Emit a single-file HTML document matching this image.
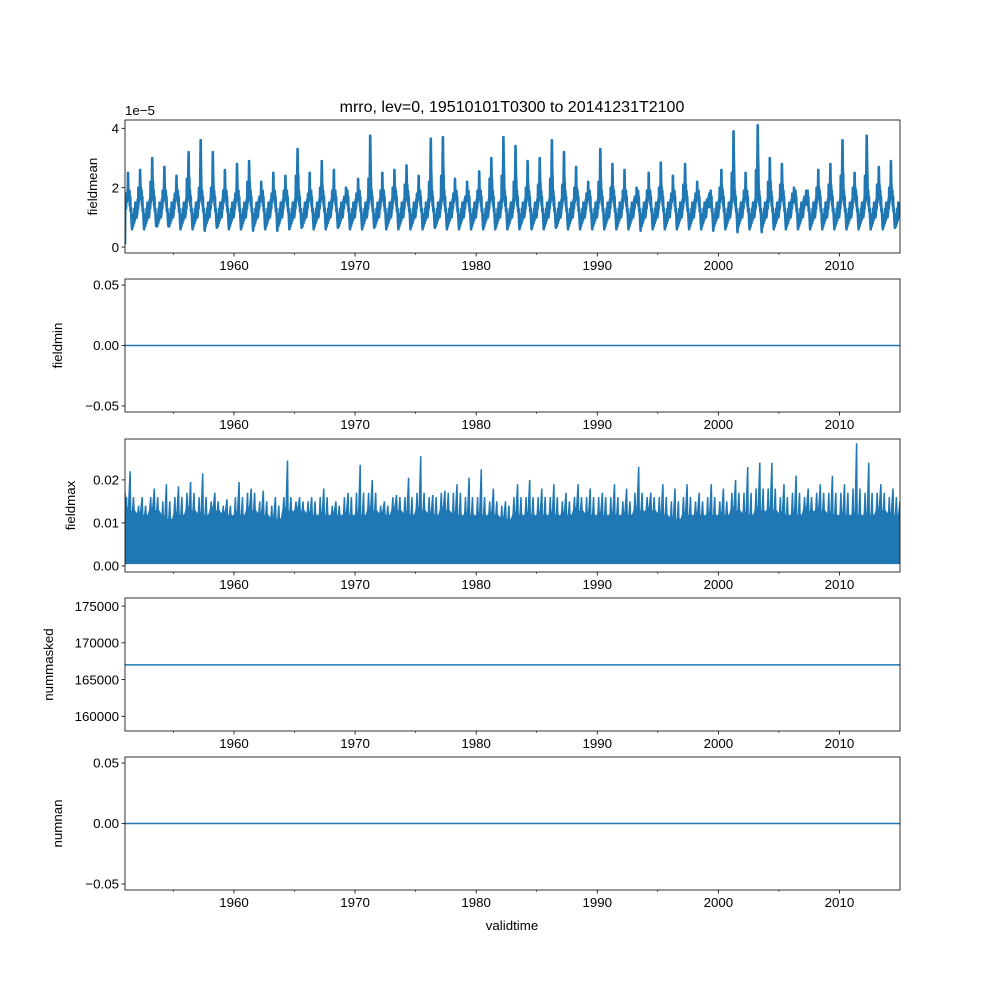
<!DOCTYPE html>
<html><head><meta charset="utf-8"><style>
html,body{margin:0;padding:0;background:#fff}
svg{display:block;font-family:"Liberation Sans","DejaVu Sans",sans-serif}
</style></head><body>
<svg id="fig" width="1000" height="1000" viewBox="0 0 1000 1000" xmlns="http://www.w3.org/2000/svg">
<rect width="1000" height="1000" fill="#fff"/>
<text x="512" y="112" font-size="16" text-anchor="middle">mrro, lev=0, 19510101T0300 to 20141231T2100</text>
<text x="512" y="930" font-size="13.3" text-anchor="middle">validtime</text>
</svg>
<script>
// fieldmean annual peaks (x1e-5), 1951..2014
const years = [];
for (let y = 1951; y <= 2014; y++) years.push(y);
const meanPeak = [2.5,2.6,3.0,2.7,2.4,3.2,3.6,3.2,2.6,2.8,2.9,2.2,2.5,2.4,3.3,2.5,2.9,2.6,2.0,2.3,3.75,2.5,2.6,2.75,2.4,3.65,3.7,2.3,2.2,2.55,3.0,3.7,3.4,2.9,3.0,3.6,3.2,2.7,2.2,3.3,2.8,2.6,2.0,2.5,2.85,2.4,2.8,2.2,1.8,2.6,3.9,2.5,4.1,3.0,2.8,2.0,1.9,2.6,2.8,3.6,2.5,3.75,2.7,2.9];
const meanSecond = [1.8,2.0,2.2,1.9,1.8,2.3,2.0,2.0,1.9,1.8,2.2,1.7,1.8,1.9,2.4,1.8,2.0,1.9,1.7,1.8,2.3,1.9,2.0,2.1,1.8,2.2,2.4,1.8,1.7,1.9,2.3,2.4,2.2,2.0,2.1,2.3,2.1,2.0,1.8,2.2,2.0,1.9,1.7,1.9,2.0,1.8,2.1,1.8,1.6,2.0,2.5,1.9,2.6,2.2,2.1,1.8,1.7,2.0,2.1,2.4,2.0,2.4,2.1,2.0];
const meanTrough = [0.6,0.6,0.7,0.7,0.6,0.6,0.55,0.65,0.6,0.6,0.55,0.6,0.55,0.6,0.65,0.6,0.6,0.65,0.6,0.6,0.65,0.6,0.6,0.6,0.6,0.65,0.6,0.6,0.6,0.6,0.6,0.6,0.6,0.6,0.6,0.65,0.6,0.6,0.6,0.6,0.6,0.6,0.55,0.6,0.6,0.6,0.6,0.6,0.55,0.6,0.5,0.6,0.5,0.6,0.6,0.6,0.6,0.6,0.6,0.6,0.6,0.6,0.6,0.65];
// fieldmax annual peaks, secondary peaks, band tops
const maxPeak = [0.022,0.016,0.018,0.019,0.0185,0.0195,0.0215,0.017,0.0155,0.0195,0.018,0.0175,0.016,0.0245,0.016,0.016,0.018,0.015,0.017,0.0235,0.020,0.015,0.0165,0.0205,0.0255,0.0165,0.0175,0.019,0.0205,0.0225,0.018,0.015,0.019,0.020,0.018,0.019,0.017,0.019,0.018,0.017,0.019,0.018,0.023,0.017,0.019,0.018,0.019,0.017,0.019,0.018,0.020,0.023,0.024,0.024,0.019,0.021,0.018,0.019,0.021,0.019,0.0285,0.024,0.019,0.018];
const maxSecond = [0.016,0.014,0.016,0.015,0.016,0.017,0.016,0.015,0.014,0.016,0.017,0.015,0.014,0.016,0.015,0.015,0.016,0.014,0.016,0.017,0.017,0.014,0.016,0.016,0.017,0.016,0.017,0.017,0.016,0.016,0.015,0.014,0.016,0.016,0.016,0.016,0.015,0.016,0.016,0.016,0.016,0.015,0.017,0.016,0.016,0.015,0.016,0.015,0.016,0.015,0.017,0.017,0.018,0.018,0.016,0.017,0.016,0.017,0.017,0.017,0.018,0.017,0.017,0.016];
const maxBand = [0.013,0.012,0.013,0.011,0.012,0.013,0.012,0.013,0.012,0.012,0.013,0.012,0.011,0.013,0.013,0.012,0.012,0.012,0.012,0.012,0.013,0.012,0.013,0.012,0.013,0.012,0.013,0.012,0.012,0.012,0.012,0.011,0.012,0.012,0.012,0.012,0.012,0.013,0.012,0.012,0.012,0.012,0.013,0.013,0.012,0.011,0.012,0.012,0.012,0.012,0.013,0.012,0.013,0.013,0.012,0.012,0.013,0.013,0.012,0.012,0.012,0.012,0.013,0.012];
const fieldminValue = 0;
const nummaskedValue = 167000;
const numnanValue = 0;
const majorTicks = [1960,1970,1980,1990,2000,2010];
const minorTicks = [1955,1965,1975,1985,1995,2005];
const meanTicks = [0,2,4];
const zeroTicks = [-0.05,0,0.05];
const maxTicks = [0,0.01,0.02];
const maskTicks = [160000,165000,170000,175000];

const NS = "http://www.w3.org/2000/svg";
const svg = document.getElementById('fig');
const L = 125, R = 900, X0 = 1951, X1 = 2015;
const sx = v => L + (v - X0) / (X1 - X0) * (R - L);
const C = '#1f77b4';
function el(tag, attrs, parent) {
  const e = document.createElementNS(NS, tag);
  for (const k in attrs) e.setAttribute(k, attrs[k]);
  (parent || svg).appendChild(e);
  return e;
}
function panel(name, top, bottom, ymin, ymax, ticks, fmt, ylabel, ylx) {
  const g = el('g', {});
  
  
  const sy = v => bottom - (v - ymin) / (ymax - ymin) * (bottom - top);
  const plot = el('g', {}, g);
  
  
  const cid = 'clip-' + name;
  const cp = el('clipPath', {id: cid}, g);
  el('rect', {x: L, y: top, width: R - L, height: bottom - top}, cp);
  const series = el('g', {'clip-path': 'url(#' + cid + ')'}, plot);
  
  
  majorTicks.forEach(t => {
    const x = sx(t);
    const tk = el('line', {x1: x, x2: x, y1: bottom, y2: bottom + 3.5, stroke: '#000', 'stroke-width': 0.8}, g);
    
    
    const tl = el('text', {x: x, y: bottom + 17, 'font-size': 13.3, 'text-anchor': 'middle'}, g);
    tl.textContent = t;
    
    
  });
  minorTicks.forEach(t => {
    const x = sx(t);
    const tk = el('line', {x1: x, x2: x, y1: bottom, y2: bottom + 2, stroke: '#000', 'stroke-width': 0.6}, g);
    
    
  });
  ticks.forEach(t => {
    const y = sy(t);
    const tk = el('line', {x1: L - 3.5, x2: L, y1: y, y2: y, stroke: '#000', 'stroke-width': 0.8}, g);
    
    
    const tl = el('text', {x: L - 6, y: y + 4.7, 'font-size': 13.3, 'text-anchor': 'end'}, g);
    tl.textContent = fmt(t);
    
    
  });
  const yl = el('text', {x: ylx, y: (top + bottom) / 2, 'font-size': 13.3, 'text-anchor': 'middle', transform: 'rotate(-90 ' + ylx + ' ' + (top + bottom) / 2 + ')'}, g);
  yl.textContent = ylabel;
  
  
  const fr = el('rect', {x: L, y: top, width: R - L, height: bottom - top, fill: 'none', stroke: '#000', 'stroke-width': 0.8}, g);
  
  
  return {series, sy};
}
const m2 = v => (v === 0 ? '0.00' : (v < 0 ? '\u22120.05' : '0.05'));

// panel 1: fieldmean
const p1 = panel('fieldmean', 120, 253, -0.2, 4.28, meanTicks, v => String(v), 'fieldmean', 97);
{
  const off = el('text', {x: 125, y: 115, 'font-size': 13.3}, svg);
  off.textContent = '1e\u22125';
  
  
  let pts = [[sx(1951), p1.sy(0.1)]];
  years.forEach((y, i) => {
    const pk = meanPeak[i], sc = meanSecond[i], tr = meanTrough[i];
    const seq = [
      [0.02, 1.2], [0.05, 1.6], [0.08, 1.3], [0.11, sc], [0.14, 1.5], [0.17, sc * 0.9],
      [0.2, 1.7], [0.23, pk * 0.8], [0.25, pk], [0.28, pk * 0.75], [0.31, sc], [0.34, 1.6],
      [0.37, 1.9], [0.4, 1.4], [0.43, 1.7], [0.46, 1.2], [0.5, 1.3], [0.54, 0.9],
      [0.58, tr], [0.62, 0.9], [0.66, 0.7], [0.7, 1.1], [0.74, 0.8], [0.78, 1.3],
      [0.82, 0.9], [0.86, 1.5], [0.9, 1.0], [0.94, 1.4], [0.97, 1.0]
    ];
    seq.forEach(s => pts.push([sx(y + s[0]), p1.sy(s[1])]));
  });
  const path = el('polyline', {points: pts.map(p => p[0].toFixed(1) + ',' + p[1].toFixed(1)).join(' '), fill: 'none', stroke: C, 'stroke-width': 2.6, 'stroke-linejoin': 'round'}, p1.series);
  
  
}

// panel 2: fieldmin
const p2 = panel('fieldmin', 279, 412, -0.055, 0.055, zeroTicks, m2, 'fieldmin', 62);
{
  const ln = el('line', {x1: L, x2: R, y1: p2.sy(fieldminValue), y2: p2.sy(fieldminValue), stroke: C, 'stroke-width': 1.5}, p2.series);
  
  
}

// panel 3: fieldmax
const p3 = panel('fieldmax', 439, 572, -0.0014, 0.0295, maxTicks, v => v.toFixed(2), 'fieldmax', 75);
{
  const base = 0.0006;
  let pts = [[sx(1951), p3.sy(base)], [sx(1951), p3.sy(0.017)]];
  years.forEach((y, i) => {
    const seq = [
      [0.05, maxBand[i]], [0.12, maxSecond[i]], [0.16, maxBand[i]], [0.3, maxBand[i] * 1.05],
      [0.42, maxPeak[i]], [0.46, maxBand[i]], [0.6, maxBand[i] * 0.92], [0.7, maxSecond[i]],
      [0.74, maxBand[i]], [0.88, maxBand[i] * 0.95]
    ];
    seq.forEach(s => pts.push([sx(y + s[0]), p3.sy(s[1])]));
  });
  pts.push([sx(2015), p3.sy(0.015)], [sx(2015), p3.sy(base)]);
  const area = el('polygon', {points: pts.map(p => p[0].toFixed(1) + ',' + p[1].toFixed(1)).join(' '), fill: C, stroke: C, 'stroke-width': 1.5, 'stroke-linejoin': 'miter'}, p3.series);
  
  
}

// panel 4: nummasked
const p4 = panel('nummasked', 598, 731, 158000, 176100, maskTicks, v => String(v), 'nummasked', 53);
{
  const ln = el('line', {x1: L, x2: R, y1: p4.sy(nummaskedValue), y2: p4.sy(nummaskedValue), stroke: C, 'stroke-width': 1.5}, p4.series);
  
  
}

// panel 5: numnan
const p5 = panel('numnan', 757, 890, -0.055, 0.055, zeroTicks, m2, 'numnan', 62);
{
  const ln = el('line', {x1: L, x2: R, y1: p5.sy(numnanValue), y2: p5.sy(numnanValue), stroke: C, 'stroke-width': 1.5}, p5.series);
  
  
}
</script>
</body></html>
